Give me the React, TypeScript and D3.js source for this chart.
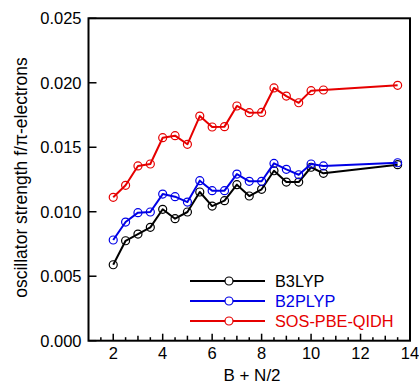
import React from "react";
import * as d3 from "d3";

const xValues = [2, 2.5, 3, 3.5, 4, 4.5, 5, 5.5, 6, 6.5, 7, 7.5, 8, 8.5, 9, 9.5, 10, 10.5, 13.5];
const b3lyp = [0.00589, 0.00775, 0.00827, 0.00879, 0.01019, 0.00946, 0.00998, 0.01153, 0.01044, 0.01086, 0.0121, 0.01122, 0.01174, 0.01318, 0.0123, 0.0123, 0.01345, 0.01298, 0.01365];
const b2plyp = [0.00781, 0.0092, 0.00993, 0.00998, 0.01137, 0.01117, 0.01075, 0.01241, 0.01163, 0.01163, 0.01292, 0.01236, 0.01236, 0.01375, 0.01329, 0.01287, 0.0137, 0.01355, 0.0138];
const sosPbeQidh = [0.01112, 0.01205, 0.01355, 0.0137, 0.01574, 0.0159, 0.01523, 0.01742, 0.01657, 0.0166, 0.0182, 0.01768, 0.0177, 0.0196, 0.01897, 0.01845, 0.01939, 0.01944, 0.0198];
const seriesNames = ["B3LYP", "B2PLYP", "SOS-PBE-QIDH"];
const seriesColors = ["#000000", "#0000e6", "#e60000"];
const yTicks = [0, 0.005, 0.01, 0.015, 0.02, 0.025];
const xMajorTicks = [2, 4, 6, 8, 10, 12, 14];

export default function App() {
  const W = 419, H = 385;
  const L = 88.5, R = 410, T = 18.3, B = 340.7;
  const x = d3.scaleLinear().domain([1, 14]).range([L, R]);
  const y = d3.scaleLinear().domain([0, 0.025]).range([B, T]);
  const series = [b3lyp, b2plyp, sosPbeQidh];
  const line = d3.line<number>().x((_, i) => x(xValues[i])).y((d) => y(d));
  const minor = d3.range(1.5, 14, 0.5);
  const font = "'Liberation Sans', Arial, Helvetica, sans-serif";
  return (
    <svg width={W} height={H} style={{ position: "absolute", left: 0, top: 0 }} fontFamily={font}>
      {minor.map((t) => {
        const major = xMajorTicks.includes(t);
        const integer = Number.isInteger(t);
        const len = major ? 7 : integer ? 5 : 3.5;
        return <line key={"mx" + t} x1={x(t)} x2={x(t)} y1={B} y2={B - len} stroke="#000" strokeWidth={1.5} />;
      })}
      {xMajorTicks.map((t) => (
        <text key={"xl" + t} x={x(t)} y={358.5} textAnchor="middle" fontSize={16.5}>{t}</text>
      ))}
      {yTicks.map((t) => (
        <g key={"y" + t}>
          <line x1={L} x2={L + 8} y1={y(t)} y2={y(t)} stroke="#000" strokeWidth={1.5} />
          <text x={81.5} y={y(t) + 6} textAnchor="end" fontSize={16.5}>{d3.format(".3f")(t)}</text>
        </g>
      ))}
      <rect x={L} y={T} width={R - L} height={B - T} fill="none" stroke="#000" strokeWidth={2} />
      {series.map((s, si) => (
        <g key={"s" + si}>
          <path d={line(s) || ""} fill="none" stroke={seriesColors[si]} strokeWidth={2} strokeLinejoin="round" />
          {s.map((v, i) => (
            <circle key={i} cx={x(xValues[i])} cy={y(v)} r={4} fill="none" stroke={seriesColors[si]} strokeWidth={1.2} />
          ))}
        </g>
      ))}
      {seriesNames.map((n, i) => {
        const ly = 281 + i * 20;
        return (
          <g key={"lg" + n}>
            <line x1={190} x2={265} y1={ly} y2={ly} stroke={seriesColors[i]} strokeWidth={2} />
            <circle cx={229} cy={ly} r={4} fill="#fff" stroke={seriesColors[i]} strokeWidth={1.2} />
            <text x={275} y={ly + 6} fontSize={16.3} fill={seriesColors[i]}>{n}</text>
          </g>
        );
      })}
      <text x={252} y={380.5} textAnchor="middle" fontSize={17}>B + N/2</text>
      <text transform={`translate(26.5,177.5) rotate(-90)`} textAnchor="middle" fontSize={17.5}>oscillator strength f/π-electrons</text>
    </svg>
  );
}
